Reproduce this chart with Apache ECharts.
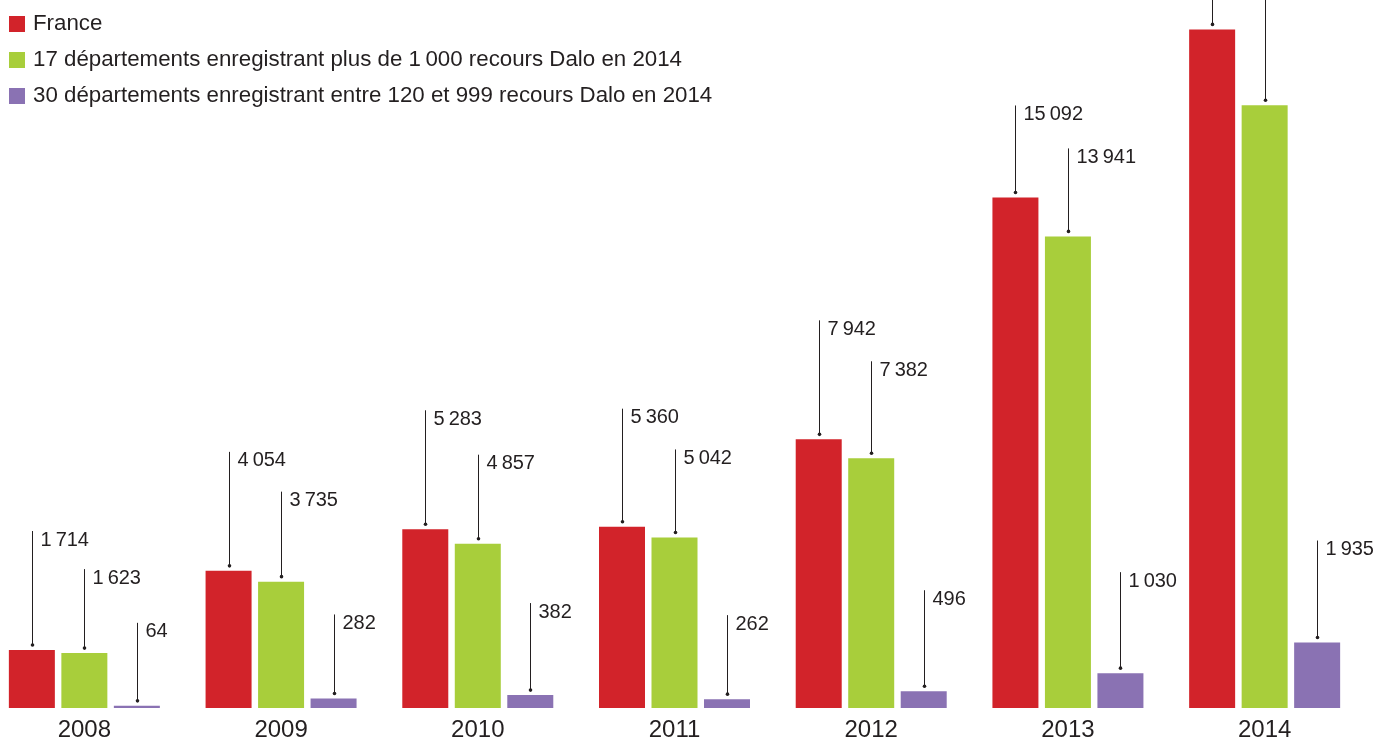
<!DOCTYPE html>
<html>
<head>
<meta charset="utf-8">
<title>Recours Dalo</title>
<script src="https://cdn.jsdelivr.net/npm/echarts@6/dist/echarts.min.js"></script>
<style>
  html, body { margin: 0; padding: 0; background: #fff; overflow: hidden; }
  /* the first year group starts a little left of the page edge */
  #chart { position: absolute; left: -14px; top: 0; width: 1390px; height: 742px; }
</style>
</head>
<body>
<div id="chart"></div>
<script>
// data (2014 France / 17 dép. labels are cut off at the top)
const years = ['2008', '2009', '2010', '2011', '2012', '2013', '2014']
const seriesNames = [
  'France',
  '17 départements enregistrant plus de 1\u2009000 recours Dalo en 2014',
  '30 départements enregistrant entre 120 et 999 recours Dalo en 2014'
]
const france = [1714, 4054, 5283, 5360, 7942, 15092, 20060]
const dep17 = [1623, 3735, 4857, 5042, 7382, 13941, 17820]
const dep30 = [64, 282, 382, 262, 496, 1030, 1935]

// layout only: leader line length (px) above each bar
const leaderLen = [
  [114, 114, 114, 113, 114, 87, 140],
  [79, 85, 84, 83, 92, 83, 120],
  [78, 79, 87, 79, 96, 96, 97]
]

const colors = ['#d2232a', '#a8ce3b', '#8a72b3']
const textColor = '#231f20'
const font = '"Liberation Sans", Arial, sans-serif'
const BAR_W = 46
const BAR_GAP = 6.5

function fmt(v) {
  return String(v).replace(/\B(?=(\d{3})+(?!\d))/g, '\u2009')
}

const chart = echarts.init(document.getElementById('chart'))

const allValues = [france, dep17, dep30]

const barSeries = allValues.map((vals, i) => ({
  name: seriesNames[i],
  type: 'bar',
  data: vals,
  barWidth: BAR_W,
  barGap: (BAR_GAP / BAR_W * 100) + '%',
  itemStyle: { color: colors[i] },
  emphasis: { disabled: true }
}))

const leaderSeries = allValues.map((vals, i) => ({
  name: 'leader' + i,
  type: 'custom',
  silent: true,
  z: 5,
  data: vals.map((v, k) => [k, v]),
  renderItem: (params, api) => {
    const k = api.value(0)
    const p = api.coord([k, api.value(1)])
    const x = Math.round(p[0] + (i - 1) * (BAR_W + BAR_GAP)) + 0.5
    const dotY = p[1] - 5
    const topY = dotY - leaderLen[i][params.dataIndex]
    return {
      type: 'group',
      children: [
        { type: 'line', shape: { x1: x, y1: dotY, x2: x, y2: topY }, style: { stroke: textColor, lineWidth: 1 } },
        { type: 'circle', shape: { cx: x, cy: dotY, r: 1.8 }, style: { fill: textColor } },
        {
          type: 'text',
          x: x + 8,
          y: topY + 9,
          style: {
            text: fmt(api.value(1)),
            fill: textColor,
            font: '20px ' + font,
            verticalAlign: 'middle',
            align: 'left'
          }
        }
      ]
    }
  }
}))

chart.setOption({
  animation: false,
  textStyle: { fontFamily: font },
  legend: {
    data: seriesNames,
    orient: 'vertical',
    left: 23,
    top: 13,
    padding: 0,
    icon: 'rect',
    itemWidth: 16,
    itemHeight: 16,
    itemGap: 14,
    selectedMode: false,
    textStyle: { fontSize: 22.3, lineHeight: 20, color: textColor, padding: [0, 0, 0, 3] }
  },
  grid: { left: 0, right: 13, top: 1, bottom: 30, containLabel: false },
  xAxis: {
    type: 'category',
    data: years,
    axisLine: { show: false },
    axisTick: { show: false },
    axisLabel: { fontSize: 24, color: textColor, margin: 10 }
  },
  yAxis: {
    type: 'value',
    min: 0,
    max: 20900,
    show: false,
    splitLine: { show: false }
  },
  series: [...barSeries, ...leaderSeries]
})
</script>
</body>
</html>
